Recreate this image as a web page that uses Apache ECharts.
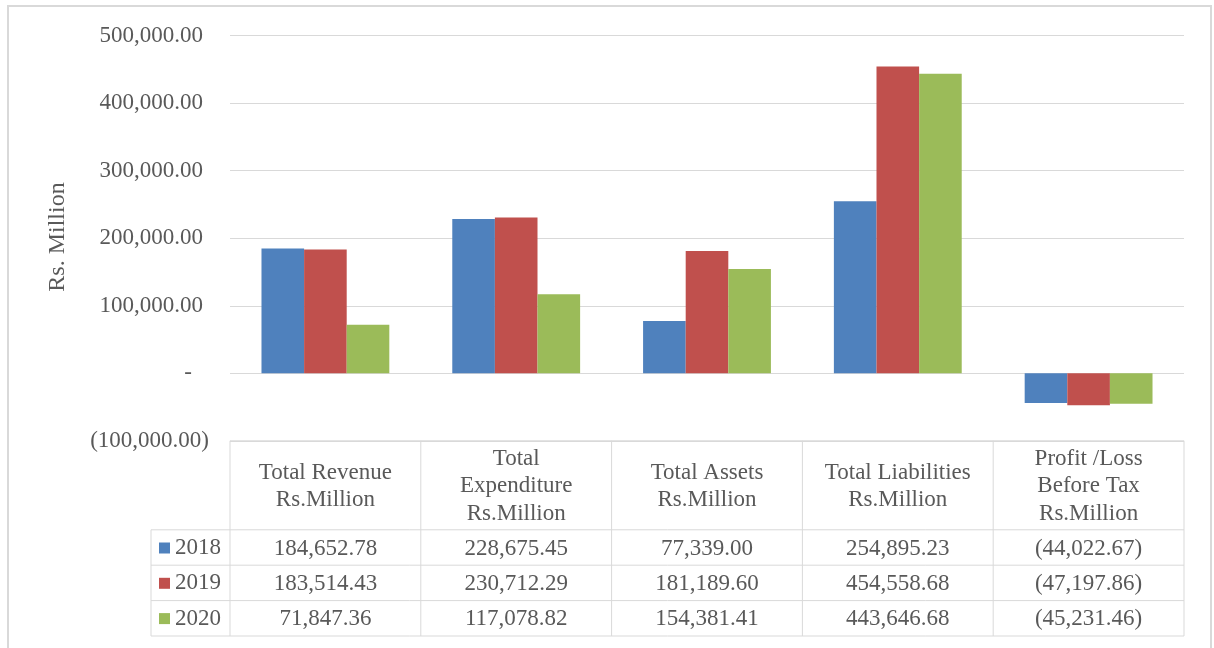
<!DOCTYPE html>
<html>
<head>
<meta charset="utf-8">
<script src="https://cdn.jsdelivr.net/npm/echarts@6/dist/echarts.min.js"></script>
<style>
html,body{margin:0;padding:0;background:#fff;}
#main{width:1214px;height:648px;}
</style>
</head>
<body>
<div id="main"></div>
<script>
// ---- data ----
const categories = ['Total Revenue\nRs.Million', 'Total\nExpenditure\nRs.Million', 'Total Assets\nRs.Million', 'Total Liabilities\nRs.Million', 'Profit /Loss\nBefore Tax\nRs.Million'];
const years = ['2018', '2019', '2020'];
const values2018 = [184652.78, 228675.45, 77339.00, 254895.23, -44022.67];
const values2019 = [183514.43, 230712.29, 181189.60, 454558.68, -47197.86];
const values2020 = [71847.36, 117078.82, 154381.41, 443646.68, -45231.46];
const yMin = -100000, yMax = 500000, yStep = 100000;
const axisTitle = 'Rs. Million';

const seriesValues = [values2018, values2019, values2020];
const colors = ['#4f81bd', '#c0504d', '#9bbb59'];
const FONT = 'Liberation Serif';
const TXT = '#595959';
const LINE = '#d9d9d9';

function fmtNum(v) {
  return Math.abs(v).toLocaleString('en-US', {minimumFractionDigits: 2, maximumFractionDigits: 2});
}
function acct(v) {
  if (v === 0) return '-';
  return v < 0 ? '(' + fmtNum(v) + ')' : fmtNum(v);
}

const chart = echarts.init(document.getElementById('main'), null, {renderer: 'canvas'});

chart.setOption({
  backgroundColor: '#ffffff',
  animation: false,
  textStyle: {fontFamily: FONT},
  grid: {left: 230, right: 30, top: 35.7, bottom: 648 - 440.8},
  legend: {
    orient: 'vertical',
    left: 159,
    top: 536.5,
    padding: 0,
    itemGap: 12.3,
    itemWidth: 11,
    itemHeight: 11,
    itemTextGap: 5,
    icon: 'rect',
    selectedMode: false,
    textStyle: {fontFamily: FONT, fontSize: 23, color: TXT, lineHeight: 23},
    data: years
  },
  xAxis: {
    type: 'category',
    data: categories,
    axisLine: {show: false},
    axisTick: {show: false},
    axisLabel: {show: false},
    splitLine: {show: false}
  },
  yAxis: {
    type: 'value',
    min: yMin, max: yMax, interval: yStep,
    axisLine: {show: false},
    axisTick: {show: false},
    splitLine: {show: true, lineStyle: {color: LINE, width: 1}},
    axisLabel: {
      margin: 21,
      formatter: function (v) {
        if (v === 0) return '{z|-}';
        if (v < 0) return '{n|' + acct(v) + '}';
        return '{p|' + acct(v) + '}';
      },
      rich: {
        p: {fontFamily: FONT, fontSize: 23, color: TXT, padding: [0, 6, 0, 0]},
        n: {fontFamily: FONT, fontSize: 23, color: TXT},
        z: {fontFamily: FONT, fontSize: 23, color: TXT, padding: [0, 17, 0, 0]}
      }
    }
  },
  series: years.map((y, i) => ({
    name: y,
    type: 'bar',
    data: seriesValues[i],
    itemStyle: {color: colors[i]},
    barGap: '0%',
    barCategoryGap: '33%'
  }))
});

// ---- data table & axis title ----
function buildGraphics() {
  const g = [];
  const c0 = chart.convertToPixel({xAxisIndex: 0}, 0);
  const c1 = chart.convertToPixel({xAxisIndex: 0}, 1);
  const colW = c1 - c0;
  const tableTop = chart.convertToPixel({yAxisIndex: 0}, yMin);
  const headerH = 89;
  const rowH = 35.4;
  const legendLeft = 151;
  const firstLeft = c0 - colW / 2;
  const lastRight = firstLeft + colW * categories.length;
  const ls = {stroke: LINE, lineWidth: 1};

  // outer border
  g.push({type: 'rect', shape: {x: 8, y: 6, width: 1203, height: 700}, style: {fill: null, stroke: LINE, lineWidth: 2}, silent: true});

  // axis title
  g.push({
    type: 'text', x: 58, y: 237, rotation: Math.PI / 2,
    style: {text: axisTitle, fontFamily: FONT, fontSize: 24, fill: TXT, align: 'center', verticalAlign: 'middle'}
  });

  // horizontal lines
  g.push({type: 'line', shape: {x1: firstLeft, y1: tableTop, x2: lastRight, y2: tableTop}, style: ls});
  for (let r = 0; r <= years.length; r++) {
    const y = tableTop + headerH + r * rowH;
    g.push({type: 'line', shape: {x1: legendLeft, y1: y, x2: lastRight, y2: y}, style: ls});
  }
  const tableBottom = tableTop + headerH + years.length * rowH;
  // vertical lines
  g.push({type: 'line', shape: {x1: legendLeft, y1: tableTop + headerH, x2: legendLeft, y2: tableBottom}, style: ls});
  for (let k = 0; k <= categories.length; k++) {
    const x = firstLeft + k * colW;
    g.push({type: 'line', shape: {x1: x, y1: tableTop, x2: x, y2: tableBottom}, style: ls});
  }
  // header texts
  categories.forEach((cat, k) => {
    const cx = chart.convertToPixel({xAxisIndex: 0}, k);
    g.push({
      type: 'text', x: cx, y: tableTop + headerH / 2 + 1,
      style: {text: cat, fontFamily: FONT, fontSize: 23, lineHeight: 27.5, fill: TXT, align: 'center', verticalAlign: 'middle'}
    });
  });
  // value cells
  seriesValues.forEach((vals, r) => {
    const cy = tableTop + headerH + r * rowH + rowH / 2 + 1;
    vals.forEach((v, k) => {
      const cx = chart.convertToPixel({xAxisIndex: 0}, k);
      g.push({
        type: 'text', x: cx, y: cy,
        style: {text: acct(v), fontFamily: FONT, fontSize: 23, fill: TXT, align: 'center', verticalAlign: 'middle'}
      });
    });
  });
  chart.setOption({graphic: g});
}
buildGraphics();
</script>
</body>
</html>
